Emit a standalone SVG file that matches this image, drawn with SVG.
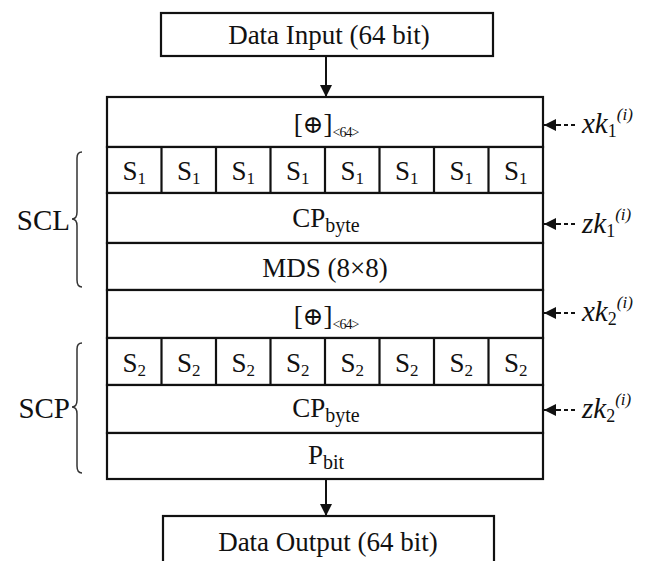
<svg xmlns="http://www.w3.org/2000/svg" width="647" height="561" viewBox="0 0 647 561">
<defs>
<marker id="ah" viewBox="0 0 10 10" refX="10" refY="5" markerWidth="15" markerHeight="12" markerUnits="userSpaceOnUse" orient="auto">
<path d="M0,0 L10,5 L0,10 z" fill="#111"/>
</marker>
</defs>
<rect width="647" height="561" fill="#fff"/>

<g id="input">
<rect x="161" y="13" width="332" height="43" fill="#fff" stroke="#111" stroke-width="2.2"/>
<text x="329" y="44" font-family="Liberation Serif" font-size="27" fill="#111" text-anchor="middle">Data Input (64 bit)</text>
</g>

<g id="xor1">
<rect x="107" y="97" width="436" height="50" fill="#fff" stroke="#111" stroke-width="2.2"/>
<text x="326" y="133" font-family="Liberation Serif" font-size="27" fill="#111" text-anchor="middle">[<tspan font-family="DejaVu Serif" font-size="25">⊕</tspan>]<tspan font-size="14" dy="4" letter-spacing="-1">&lt;64&gt;</tspan></text>
</g>

<g id="sbox1">
<rect x="107" y="147" width="436" height="46" fill="#fff" stroke="#111" stroke-width="2.2"/>
<path d="M161.5,147V193M216,147V193M270.5,147V193M325,147V193M379.5,147V193M434,147V193M488.5,147V193" stroke="#111" stroke-width="2.2"/>
<g font-family="Liberation Serif" font-size="27" fill="#111" text-anchor="middle">
<text x="134.3" y="180" font-family="Liberation Serif">S<tspan font-size="17" dy="4">1</tspan></text>
<text x="188.8" y="180" font-family="Liberation Serif">S<tspan font-size="17" dy="4">1</tspan></text>
<text x="243.3" y="180" font-family="Liberation Serif">S<tspan font-size="17" dy="4">1</tspan></text>
<text x="297.8" y="180" font-family="Liberation Serif">S<tspan font-size="17" dy="4">1</tspan></text>
<text x="352.3" y="180" font-family="Liberation Serif">S<tspan font-size="17" dy="4">1</tspan></text>
<text x="406.8" y="180" font-family="Liberation Serif">S<tspan font-size="17" dy="4">1</tspan></text>
<text x="461.3" y="180" font-family="Liberation Serif">S<tspan font-size="17" dy="4">1</tspan></text>
<text x="515.8" y="180" font-family="Liberation Serif">S<tspan font-size="17" dy="4">1</tspan></text>
</g>
</g>

<g id="cp1">
<rect x="107" y="193" width="436" height="50" fill="#fff" stroke="#111" stroke-width="2.2"/>
<text x="326" y="227" font-family="Liberation Serif" font-size="27" fill="#111" text-anchor="middle">CP<tspan font-size="20" dy="5">byte</tspan></text>
</g>

<g id="mds">
<rect x="107" y="243" width="436" height="47" fill="#fff" stroke="#111" stroke-width="2.2"/>
<text x="325" y="277" font-family="Liberation Serif" font-size="27" fill="#111" text-anchor="middle">MDS (8×8)</text>
</g>

<g id="xor2">
<rect x="107" y="290" width="436" height="48" fill="#fff" stroke="#111" stroke-width="2.2"/>
<text x="326" y="325" font-family="Liberation Serif" font-size="27" fill="#111" text-anchor="middle">[<tspan font-family="DejaVu Serif" font-size="25">⊕</tspan>]<tspan font-size="14" dy="4" letter-spacing="-1">&lt;64&gt;</tspan></text>
</g>

<g id="sbox2">
<rect x="107" y="338" width="436" height="47" fill="#fff" stroke="#111" stroke-width="2.2"/>
<path d="M161.5,338V385M216,338V385M270.5,338V385M325,338V385M379.5,338V385M434,338V385M488.5,338V385" stroke="#111" stroke-width="2.2"/>
<g font-family="Liberation Serif" font-size="27" fill="#111" text-anchor="middle">
<text x="134.3" y="372" font-family="Liberation Serif">S<tspan font-size="17" dy="4">2</tspan></text>
<text x="188.8" y="372" font-family="Liberation Serif">S<tspan font-size="17" dy="4">2</tspan></text>
<text x="243.3" y="372" font-family="Liberation Serif">S<tspan font-size="17" dy="4">2</tspan></text>
<text x="297.8" y="372" font-family="Liberation Serif">S<tspan font-size="17" dy="4">2</tspan></text>
<text x="352.3" y="372" font-family="Liberation Serif">S<tspan font-size="17" dy="4">2</tspan></text>
<text x="406.8" y="372" font-family="Liberation Serif">S<tspan font-size="17" dy="4">2</tspan></text>
<text x="461.3" y="372" font-family="Liberation Serif">S<tspan font-size="17" dy="4">2</tspan></text>
<text x="515.8" y="372" font-family="Liberation Serif">S<tspan font-size="17" dy="4">2</tspan></text>
</g>
</g>

<g id="cp2">
<rect x="107" y="385" width="436" height="48" fill="#fff" stroke="#111" stroke-width="2.2"/>
<text x="326" y="417" font-family="Liberation Serif" font-size="27" fill="#111" text-anchor="middle">CP<tspan font-size="20" dy="5">byte</tspan></text>
</g>

<g id="pbit">
<rect x="107" y="433" width="436" height="46" fill="#fff" stroke="#111" stroke-width="2.2"/>
<text x="326" y="464" font-family="Liberation Serif" font-size="27" fill="#111" text-anchor="middle">P<tspan font-size="20" dy="5">bit</tspan></text>
</g>

<g id="output">
<rect x="163" y="516" width="331" height="60" fill="#fff" stroke="#111" stroke-width="2.2"/>
<text x="328" y="551" font-family="Liberation Serif" font-size="27" fill="#111" text-anchor="middle">Data Output (64 bit)</text>
</g>

<g id="scl">
<path d="M82,152 Q77,152 77,158 L77,212 Q77,219 72,219 Q77,219 77,226 L77,280 Q77,287 82,287" fill="none" stroke="#333" stroke-width="1.5"/>
<text x="70" y="230" font-family="Liberation Serif" font-size="29" fill="#111" text-anchor="end">SCL</text>
</g>

<g id="scp">
<path d="M82,343 Q77,343 77,349 L77,400 Q77,407 72,407 Q77,407 77,414 L77,466 Q77,473 82,473" fill="none" stroke="#333" stroke-width="1.5"/>
<text x="70" y="418" font-family="Liberation Serif" font-size="29" fill="#111" text-anchor="end">SCP</text>
</g>

<g id="keys" font-family="Liberation Serif" font-size="29" fill="#111">
<text x="582" y="133" font-family="Liberation Serif" font-style="italic">xk<tspan font-style="normal" font-size="18" dy="4">1</tspan><tspan font-style="italic" font-size="17" dy="-17">(i)</tspan></text>
<text x="582" y="233" font-family="Liberation Serif" font-style="italic">zk<tspan font-style="normal" font-size="18" dy="4">1</tspan><tspan font-style="italic" font-size="17" dy="-17">(i)</tspan></text>
<text x="582" y="321" font-family="Liberation Serif" font-style="italic">xk<tspan font-style="normal" font-size="18" dy="4">2</tspan><tspan font-style="italic" font-size="17" dy="-17">(i)</tspan></text>
<text x="582" y="418" font-family="Liberation Serif" font-style="italic">zk<tspan font-style="normal" font-size="18" dy="4">2</tspan><tspan font-style="italic" font-size="17" dy="-17">(i)</tspan></text>
</g>

<g id="connectors" stroke="#111" stroke-width="2">
<line x1="326" y1="56" x2="326" y2="97" marker-end="url(#ah)"/>
<line x1="326" y1="479" x2="326" y2="516" marker-end="url(#ah)"/>
<line x1="575" y1="125" x2="557" y2="125" stroke-dasharray="4 3"/>
<line x1="560" y1="125" x2="544" y2="125" marker-end="url(#ah)"/>
<line x1="575" y1="224" x2="557" y2="224" stroke-dasharray="4 3"/>
<line x1="560" y1="224" x2="544" y2="224" marker-end="url(#ah)"/>
<line x1="575" y1="313" x2="557" y2="313" stroke-dasharray="4 3"/>
<line x1="560" y1="313" x2="544" y2="313" marker-end="url(#ah)"/>
<line x1="575" y1="410" x2="557" y2="410" stroke-dasharray="4 3"/>
<line x1="560" y1="410" x2="544" y2="410" marker-end="url(#ah)"/>
</g>
</svg>
